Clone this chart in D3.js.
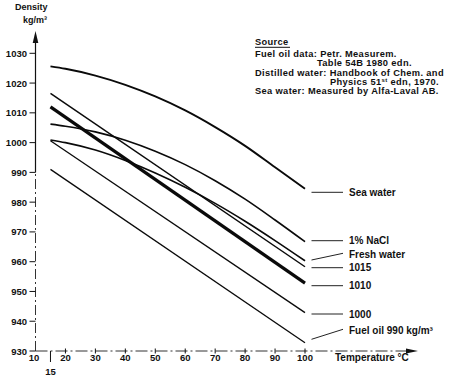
<!DOCTYPE html>
<html>
<head>
<meta charset="utf-8">
<script src="https://cdn.jsdelivr.net/npm/d3@7"></script>
<style>
  body { margin: 0; background: #fff; }
  svg text { font-family: "Liberation Sans", Arial, sans-serif; font-weight: bold; fill: #111; }
</style>
</head>
<body>
<svg id="chart" width="453" height="377"></svg>
<script>
// temperatures (°C) the curves are read at
const temps = [15, 20, 30, 40, 50, 60, 70, 80, 90, 100];
const seaWater = [1025.6, 1024.8, 1022.5, 1019.4, 1015.5, 1010.8, 1005.2, 998.9, 991.7, 984.5];
const nacl = [1006.2, 1005.5, 1003.6, 1000.8, 997.1, 992.6, 987.2, 981.0, 974.0, 966.7];
const freshWater = [1000.9, 1000.0, 997.5, 994.0, 989.8, 985.0, 979.6, 973.6, 967.1, 960.3];

// fuel oils are straight lines between 15 and 100 °C
const oilTemps = [15, 100];
const oil1015 = [1016.5, 958.3];
const oil1010 = [1012.0, 952.8];
const oil1000 = [1000.6, 942.9];
const oil990 = [991.0, 932.8];

const yTicks = [930, 940, 950, 960, 970, 980, 990, 1000, 1010, 1020, 1030];
const xTicks = [10, 20, 30, 40, 50, 60, 70, 80, 90, 100];

const series = [
  { name: "Sea water", t: temps, d: seaWater, w: 1.9, curved: true },
  { name: "1% NaCl", t: temps, d: nacl, w: 1.6, curved: true },
  { name: "Fresh water", t: temps, d: freshWater, w: 1.6, curved: true },
  { name: "1015", t: oilTemps, d: oil1015, w: 1.5 },
  { name: "1010", t: oilTemps, d: oil1010, w: 3.2 },
  { name: "1000", t: oilTemps, d: oil1000, w: 1.3 },
  { name: "Fuel oil 990 kg/m³", t: oilTemps, d: oil990, w: 1.3 },
];

const svg = d3.select("#chart");
const x = d3.scaleLinear().domain([10, 100]).range([35.5, 305]);
const y = d3.scaleLinear().domain([930, 1030]).range([351, 53.3]);
const x0 = x(10);
const y0 = y(930);

// y axis
svg.append("line")
  .attr("x1", x0).attr("x2", x0)
  .attr("y1", y(990)).attr("y2", 40)
  .attr("stroke", "#111").attr("stroke-width", 1.2);
svg.append("line")
  .attr("x1", x0).attr("x2", x0)
  .attr("y1", y0).attr("y2", y(990))
  .attr("stroke", "#333").attr("stroke-width", 1)
  .attr("stroke-dasharray", "10,3,2,3");
svg.append("path")
  .attr("d", `M${x0},31 L${x0 - 2.8},43 L${x0 + 2.8},43 Z`)
  .attr("fill", "#111");

svg.selectAll(".ytick")
  .data(yTicks)
  .enter()
  .append("line")
  .attr("x1", x0 - 6).attr("x2", x0)
  .attr("y1", (d) => y(d)).attr("y2", (d) => y(d))
  .attr("stroke", "#111").attr("stroke-width", 1);

svg.selectAll(".ylab")
  .data(yTicks)
  .enter()
  .append("text")
  .attr("x", 27)
  .attr("y", (d) => y(d) + 3.5)
  .attr("text-anchor", "end")
  .attr("font-size", "9.5px")
  .text((d) => d);

// x axis
svg.append("line")
  .attr("x1", x0).attr("x2", 408)
  .attr("y1", y0).attr("y2", y0)
  .attr("stroke", "#333").attr("stroke-width", 1)
  .attr("stroke-dasharray", "12,3,2,3");
svg.append("path")
  .attr("d", `M418,${y0} L406,${y0 - 2.6} L406,${y0 + 2.6} Z`)
  .attr("fill", "#111");

svg.selectAll(".xtick")
  .data(xTicks.slice(1))
  .enter()
  .append("line")
  .attr("x1", (d) => x(d)).attr("x2", (d) => x(d))
  .attr("y1", y0 - 2.5).attr("y2", y0 + 2.5)
  .attr("stroke", "#111").attr("stroke-width", 1);

svg.append("line")
  .attr("x1", x(15)).attr("x2", x(15))
  .attr("y1", y0).attr("y2", y0 + 11)
  .attr("stroke", "#111").attr("stroke-width", 1);

svg.selectAll(".xlab")
  .data(xTicks)
  .enter()
  .append("text")
  .attr("x", (d) => x(d) - (d == 10 ? 1.5 : 0))
  .attr("y", y0 + 10)
  .attr("text-anchor", "middle")
  .attr("font-size", "9.5px")
  .text((d) => d);

svg.append("text")
  .attr("x", x(15)).attr("y", 375)
  .attr("text-anchor", "middle")
  .attr("font-size", "9.5px")
  .text("15");

svg.append("text")
  .attr("x", 335).attr("y", y0 + 10)
  .attr("font-size", "10px")
  .text("Temperature °C");

svg.append("text")
  .attr("x", 15).attr("y", 10)
  .attr("font-size", "9px")
  .text("Density");
svg.append("text")
  .attr("x", 23).attr("y", 22.5)
  .attr("font-size", "9px")
  .text("kg/m³");

// curves
const line = d3.line().x((p) => x(p[0])).y((p) => y(p[1]));

svg.selectAll(".curve")
  .data(series)
  .enter()
  .append("path")
  .attr("d", (s) =>
    line.curve(s.curved ? d3.curveMonotoneX : d3.curveLinear)(
      s.t.map((t, i) => [t, s.d[i]])
    )
  )
  .attr("fill", "none")
  .attr("stroke", "#0a0a0a")
  .attr("stroke-width", (s) => s.w);

// label leaders: [y at left, y at right, text baseline]
const leaders = [
  [192.3, 192.3, 195.5],
  [240.7, 240.7, 244],
  [260, 253.3, 257.5],
  [267.7, 267.7, 271],
  [285.7, 285.7, 289],
  [314, 314, 317.5],
  [339.3, 329.3, 333.5],
];

series.forEach((s, i) => {
  const l = leaders[i];
  svg.append("line")
    .attr("x1", 311.5).attr("x2", 343)
    .attr("y1", l[0]).attr("y2", l[1])
    .attr("stroke", "#222").attr("stroke-width", 1);
  svg.append("text")
    .attr("x", 349).attr("y", l[2])
    .attr("font-size", "10px")
    .text(s.name);
});

// source block
const src = svg.append("g").attr("font-size", "9.3px").attr("letter-spacing", "0.35px");
src.append("text").attr("x", 255).attr("y", 45).text("Source");
src.append("line")
  .attr("x1", 255).attr("x2", 290)
  .attr("y1", 47.3).attr("y2", 47.3)
  .attr("stroke", "#111").attr("stroke-width", 1);
src.append("text").attr("x", 255).attr("y", 57).text("Fuel oil data: Petr. Measurem.");
src.append("text").attr("x", 317).attr("y", 66).text("Table 54B 1980 edn.");
src.append("text").attr("x", 255).attr("y", 75.5).text("Distilled water: Handbook of Chem. and");
const phys = src.append("text").attr("x", 330).attr("y", 84.5);
phys.append("tspan").text("Physics 51");
phys.append("tspan").attr("font-size", "6px").attr("dy", -3).text("st");
phys.append("tspan").attr("dy", 3).text(" edn, 1970.");
src.append("text").attr("x", 255).attr("y", 94).text("Sea water: Measured by Alfa-Laval AB.");
</script>
</body>
</html>
